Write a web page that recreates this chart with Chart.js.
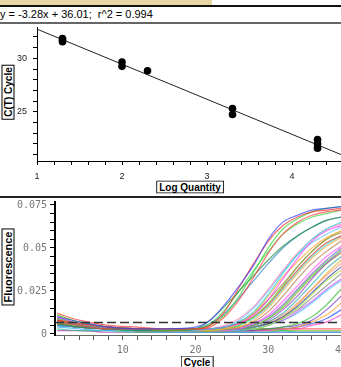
<!DOCTYPE html>
<html>
<head>
<meta charset="utf-8">
<script src="https://cdn.jsdelivr.net/npm/chart.js@4.4.1/dist/chart.umd.min.js"></script>
<style>
  html, body { margin:0; padding:0; background:#fff; width:341px; height:367px; overflow:hidden; position:relative; font-family:"Liberation Sans", Arial, sans-serif; }
  .abs { position:absolute; }
  #banner { left:0; top:0; width:212px; height:5px; background:#e7d5a5; }
  #rule1 { left:0; top:5px; width:341px; height:2px; background:#111; }
  #equation { left:0; top:8px; font-size:11px; line-height:13px; color:#000; white-space:pre; }
  #rule2 { left:0; top:22px; width:341px; height:2px; background:#666; }
  #rule3 { left:0; top:196px; width:341px; height:2px; background:#222; }
  canvas { position:absolute; left:0; }
  #standard { top:25px; }
  #amp { top:199px; }
  .box { position:absolute; z-index:2; border:1px solid #000; background:#fff; font-weight:bold; font-size:10px; line-height:11px; padding:0 2px; white-space:nowrap; transform:translate(-50%,-50%); color:#000; }
  .box.v { transform:translate(-50%,-50%) rotate(-90deg); }
</style>
</head>
<body>
  <div id="banner" class="abs"></div>
  <div id="rule1" class="abs"></div>
  <div id="equation" class="abs"></div>
  <div id="rule2" class="abs"></div>
  <canvas id="standard" width="341" height="170"></canvas>
  <div class="box v" style="left:8px; top:92px;">C(T) Cycle</div>
  <div class="box" style="left:190px; top:187px;">Log Quantity</div>
  <div id="rule3" class="abs"></div>
  <canvas id="amp" width="352" height="168"></canvas>
  <div class="box v" style="left:8px; top:267px; font-size:11px;">Fluorescence</div>
  <div class="box" style="left:197px; top:362px;">Cycle</div>

<script>
// standard curve
const logQuantity = [1.3, 1.3, 1.3, 2, 2, 2.3, 3.3, 3.3, 4.3, 4.3, 4.3];
const ctCycle = [31.85, 31.7, 31.55, 29.65, 29.25, 28.83, 25.3, 24.75, 22.4, 22.0, 21.6];
const slope = -3.28;
const intercept = 36.01;
const r2 = 0.994;

// amplification plot (fluorescence in thousandths)
const cycles = [1, 4, 8, 12, 16, 20, 22, 24, 26, 28, 30, 32, 34, 36, 38, 40];
const curves = [
  // early
  [10, 7, 4, 3, 3, 4, 8, 17, 28, 40, 55, 65, 69, 72, 73, 74],
  [8, 6, 4, 3, 3, 3, 5, 13, 27, 41, 54, 63, 68, 71, 72, 73],
  [11, 7, 4, 3, 2, 3, 5, 11, 22, 36, 50, 61, 67, 71, 73, 74],
  [7, 5, 3, 3, 2, 3, 4, 10, 20, 33, 47, 58, 65, 69, 71, 72],
  [6, 4, 3, 2, 2, 3, 8, 16, 25, 34, 43, 51, 57, 62, 66, 68],
  [9, 6, 4, 3, 3, 3, 6, 14, 25, 37, 48, 58, 64, 68, 70, 72],
  [5, 4, 3, 2, 2, 3, 6, 12, 21, 31, 41, 50, 57, 62, 66, 68],
  // middle
  [7, 5, 3, 2, 2, 2, 3, 4, 7, 13, 23, 35, 46, 55, 61, 65],
  [10, 6, 4, 3, 2, 2, 3, 4, 6, 11, 20, 32, 44, 54, 60, 63],
  [6, 4, 3, 2, 2, 2, 2, 3, 6, 12, 22, 33, 42, 50, 56, 60],
  [8, 5, 3, 3, 2, 2, 3, 4, 7, 12, 20, 29, 39, 48, 55, 59],
  [9, 6, 4, 3, 3, 3, 3, 5, 9, 16, 26, 37, 47, 55, 61, 64],
  [5, 4, 3, 2, 2, 2, 3, 4, 8, 15, 25, 36, 46, 53, 58, 62],
  [7, 5, 3, 2, 2, 2, 2, 3, 5, 10, 18, 28, 39, 48, 55, 60],
  [8, 5, 4, 3, 2, 3, 3, 4, 6, 10, 17, 27, 37, 46, 53, 57],
  [8, 5, 3, 2, 2, 2, 2, 3, 4, 8, 15, 25, 35, 44, 51, 56],
  [6, 4, 3, 2, 2, 2, 2, 3, 4, 7, 13, 22, 32, 41, 48, 54],
  [9, 6, 4, 3, 2, 2, 2, 3, 5, 9, 16, 26, 36, 45, 52, 57],
  [7, 5, 3, 2, 2, 2, 2, 2, 3, 6, 11, 19, 28, 37, 45, 51],
  [5, 4, 3, 2, 2, 2, 2, 2, 3, 5, 9, 16, 25, 34, 42, 49],
  [8, 5, 4, 3, 2, 2, 3, 3, 4, 6, 10, 17, 26, 35, 43, 50],
  // late
  [6, 4, 3, 2, 2, 2, 2, 3, 3, 5, 8, 14, 22, 32, 41, 48],
  [7, 5, 3, 2, 2, 2, 2, 3, 4, 5, 9, 15, 24, 33, 41, 47],
  [5, 4, 3, 3, 2, 2, 2, 3, 3, 4, 7, 12, 20, 29, 38, 45],
  [9, 6, 4, 3, 2, 2, 2, 2, 3, 4, 7, 11, 18, 26, 34, 41],
  [6, 4, 3, 2, 2, 2, 2, 2, 3, 4, 6, 10, 16, 24, 32, 39],
  [8, 5, 3, 2, 2, 2, 2, 3, 3, 4, 6, 10, 17, 26, 35, 43],
  [7, 5, 3, 2, 2, 2, 2, 2, 3, 3, 5, 9, 15, 23, 31, 37],
  [5, 4, 3, 2, 2, 2, 2, 2, 3, 4, 6, 9, 14, 21, 28, 35],
  [10, 6, 4, 3, 2, 2, 2, 3, 3, 4, 6, 8, 13, 19, 26, 32],
  [6, 4, 3, 2, 2, 2, 2, 2, 2, 3, 5, 8, 12, 18, 25, 31],
  // very late
  [7, 5, 3, 2, 2, 2, 2, 2, 2, 3, 3, 4, 6, 10, 17, 26],
  [8, 5, 3, 2, 2, 2, 2, 2, 2, 2, 3, 4, 5, 8, 14, 22],
  [6, 4, 3, 2, 2, 2, 2, 2, 2, 2, 3, 3, 4, 7, 11, 18],
  [9, 6, 4, 3, 2, 2, 2, 2, 2, 2, 3, 3, 4, 6, 9, 14],
  [5, 4, 3, 2, 2, 2, 2, 2, 2, 2, 2, 3, 3, 5, 7, 11],
  // no amplification
  [12, 8, 5, 4, 3, 3, 3, 3, 3, 3, 3, 3, 3, 3, 3, 3],
  [4, 3, 2, 2, 1, 1, 1, 1, 1, 1, 1, 1, 1, 1, 1, 1],
  [3, 2, 2, 1, 1, 1, 1, 1, 1, 1, 1, 2, 1, 1, 1, 1],
  [11, 7, 4, 3, 3, 2, 2, 2, 2, 2, 2, 2, 2, 2, 2, 2],
  [2, 2, 1, 1, 1, 1, 1, 1, 1, 1, 1, 1, 1, 1, 1, 1],
  [7, 5, 3, 3, 2, 2, 2, 2, 2, 2, 2, 2, 2, 2, 2, 2]
];
const curveColors = [
  '#2f3cff', '#ff2a2a', '#2fd02f', '#ff3b3b', '#1f8a3a', '#3fd84f', '#2a7fd0',
  '#22d6d6', '#ff33ff', '#ffa530', '#a8743a', '#ff7fb0', '#5ab8ff', '#55dd33', '#e03030',
  '#ffb040', '#b07040', '#30e0e0', '#ff50ff', '#40d040', '#9050e0',
  '#8a3fd0', '#9a9a2a', '#2aa8a8', '#ff8870', '#2a3aa0', '#e0b020', '#9ae030', '#808080', '#c050ff', '#40c0ff',
  '#30c030', '#7030c0', '#ffa020', '#3050ff', '#ff30c0',
  '#ff3030', '#30a0ff', '#20c080', '#c0c020', '#a030a0', '#40e0e0'
];
const threshold = 0.0067;
const yMajor = [0, 0.025, 0.05, 0.075];
const yMajorLabels = ['0', '0.025', '0.05', '0.075'];
const xMajor = [10, 20, 30, 40];

document.getElementById('equation').textContent =
  'y = ' + slope.toFixed(2) + 'x + ' + intercept.toFixed(2) + ';  r^2 = ' + r2;

const fit = x => slope * x + intercept;
const stdMin = 1, stdMax = 4.576;

function steps(from, to, step) {
  const out = [];
  for (let v = from; v <= to + 1e-9; v += step) out.push({ value: Math.round(v * 1000) / 1000 });
  return out;
}

// fixed axis box sizes, no extra room for edge labels
function fixBox(w, h) {
  return function (s) {
    if (w !== null) s.width = w;
    if (h !== null) s.height = h;
    s.paddingTop = 0; s.paddingBottom = 0; s.paddingLeft = 0; s.paddingRight = 0;
  };
}

new Chart(document.getElementById('standard'), {
  type: 'scatter',
  data: {
    datasets: [
      {
        data: logQuantity.map((x, i) => ({ x: x, y: ctCycle[i] })),
        backgroundColor: '#000', borderColor: '#000',
        pointRadius: 3.8, pointHoverRadius: 3.8, pointBorderWidth: 0
      },
      {
        data: [{ x: stdMin, y: fit(stdMin) }, { x: stdMax, y: fit(stdMax) }],
        showLine: true, borderColor: '#222', borderWidth: 1, pointRadius: 0
      }
    ]
  },
  options: {
    responsive: false, animation: false, events: [],
    layout: { autoPadding: false, padding: { top: 2, right: 0, left: 0, bottom: 0 } },
    plugins: { legend: { display: false }, tooltip: { enabled: false } },
    scales: {
      x: {
        type: 'linear', min: stdMin, max: stdMax,
        afterFit: fixBox(null, 34),
        afterBuildTicks(s) { s.ticks = steps(1, 4.4, 0.2); },
        ticks: {
          autoSkip: false, maxRotation: 0, padding: 6, color: '#222',
          font: { family: 'Liberation Sans', size: 9 },
          callback: v => Math.abs(v - Math.round(v)) < 1e-6 ? String(Math.round(v)) : ''
        },
        grid: { drawOnChartArea: false, tickLength: 4, tickColor: '#000' },
        border: { color: '#000', width: 1 }
      },
      y: {
        min: 20.4, max: 32.93,
        afterFit: fixBox(37, null),
        afterBuildTicks(s) { s.ticks = steps(21, 32, 1); },
        ticks: {
          autoSkip: false, padding: 6, color: '#222',
          font: { family: 'Liberation Sans', size: 9 },
          callback: v => Math.round(v) % 5 === 0 ? String(Math.round(v)) : ''
        },
        grid: { drawOnChartArea: false, tickLength: 4, tickColor: '#000' },
        border: { color: '#000', width: 1 }
      }
    }
  }
});

function withAlpha(hex, a) {
  const n = parseInt(hex.slice(1), 16);
  return 'rgba(' + (n >> 16) + ',' + ((n >> 8) & 255) + ',' + (n & 255) + ',' + a + ')';
}

const ampMin = 0.7, ampMax = 41.5;
const ampSets = [{
  data: [{ x: ampMin, y: threshold }, { x: ampMax, y: threshold }],
  showLine: true, borderColor: '#333', borderWidth: 1.6, borderDash: [9, 4], pointRadius: 0
}];
curves.forEach((vals, i) => {
  ampSets.push({
    data: cycles.map((c, j) => ({ x: c, y: vals[j] / 1000 })),
    showLine: true, borderColor: withAlpha(curveColors[i % curveColors.length], 0.7),
    borderWidth: 1.2, pointRadius: 0, cubicInterpolationMode: 'monotone'
  });
});

new Chart(document.getElementById('amp'), {
  type: 'scatter',
  data: { datasets: ampSets },
  options: {
    responsive: false, animation: false, events: [],
    layout: { autoPadding: false, padding: { top: 2.5, right: 0, left: 0, bottom: 0 } },
    plugins: { legend: { display: false }, tooltip: { enabled: false } },
    scales: {
      x: {
        type: 'linear', min: ampMin, max: ampMax,
        afterFit: fixBox(null, 32),
        afterBuildTicks(s) { s.ticks = steps(2, 40, 2); },
        ticks: {
          autoSkip: false, maxRotation: 0, padding: 4, color: '#777',
          font: { family: 'DejaVu Sans Mono', size: 10 },
          callback: v => xMajor.includes(Math.round(v)) ? String(Math.round(v)) : ''
        },
        grid: { drawOnChartArea: false, tickLength: 5, tickColor: '#555' },
        border: { color: '#666', width: 1 }
      },
      y: {
        min: -0.0006, max: 0.077,
        afterFit: fixBox(55, null),
        afterBuildTicks(s) { s.ticks = steps(0, 0.075, 0.005); },
        ticks: {
          autoSkip: false, padding: 3, color: '#777',
          font: { family: 'DejaVu Sans Mono', size: 10 },
          callback: v => {
            const k = yMajor.findIndex(m => Math.abs(m - v) < 1e-6);
            return k >= 0 ? yMajorLabels[k] : '';
          }
        },
        grid: { drawOnChartArea: false, tickLength: 5, tickColor: '#000', tickWidth: 1 },
        border: { color: '#000', width: 2 }
      }
    }
  }
});
</script>
</body>
</html>
